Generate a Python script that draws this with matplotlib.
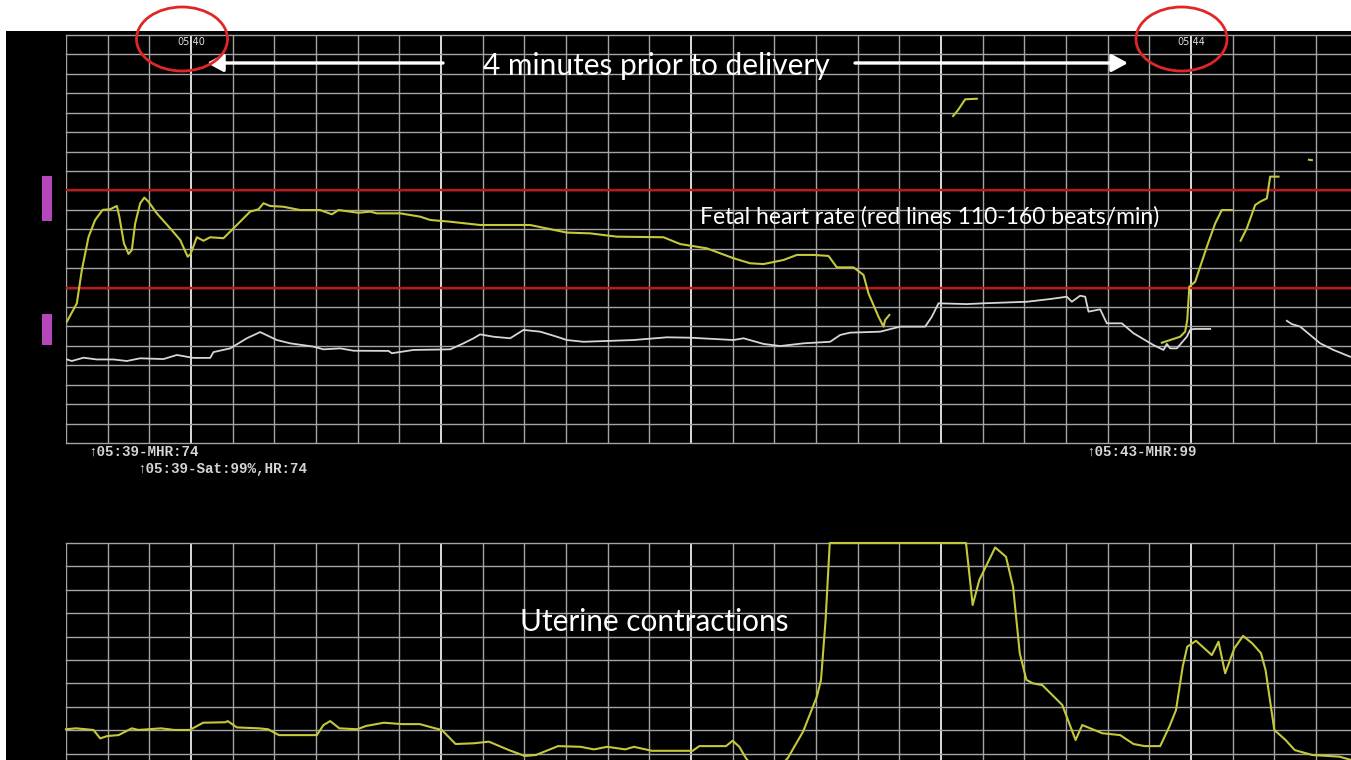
import numpy as np
import matplotlib
matplotlib.use("Agg")
import matplotlib.pyplot as plt
from matplotlib.patches import Rectangle, Ellipse, FancyArrowPatch

# ---------------- data (time in seconds from 05:39:30) ----------------
fhr_t1 = [0.2, 2.6, 3.8, 5.4, 7, 8.8, 10.6, 12.2, 12.8, 13.9, 15, 15.8, 16.6, 17.8, 18.8, 19.8,
          21.8, 25, 27.4, 29.2, 29.9, 31.4, 33, 34.6, 37.8, 40.2, 44.2, 46.2, 47.4, 49, 52.2, 56.2,
          61, 63.8, 65.4, 70.2, 73, 74.6, 80.2, 85, 87.4, 92.2, 99.4, 111.4, 120.2, 125.8, 132.2,
          143.4, 147.4, 153.8, 160.2, 164.2, 167.4, 172.2, 175.4, 179.4, 183, 185, 189, 191.4,
          192.6, 195, 196.2, 196.6, 197.6]
fhr_v1 = [92.4, 101.9, 119, 136, 144.8, 150, 150.3, 152, 146.5, 132.8, 127.3, 129.3, 143, 153.4,
          156.3, 154.2, 148.2, 140.5, 134.5, 125.9, 127.3, 135.9, 134.1, 135.9, 135.4, 140.5, 149.1,
          150.3, 153.4, 152, 151.6, 149.9, 149.9, 147.7, 149.9, 148.5, 149.1, 148.2, 148.2, 146.5,
          144.8, 143.9, 142.2, 142.2, 138.3, 137.9, 136.2, 135.9, 132.4, 130.2, 125.1, 122.5, 122.1,
          124.2, 126.8, 126.8, 126.3, 120.4, 120.4, 116.5, 107, 95, 89.9, 93.3, 95.9]
fhr_t2 = [212.9, 214.1, 215.8, 218.6]
fhr_v2 = [198.3, 201.4, 206.9, 207.2]
fhr_t3 = [263.0, 265.0, 267.4, 268.6, 269.1, 269.6, 271.0, 272.2, 273.8, 275.8, 277.4, 279.8]
fhr_v3 = [81.6, 83, 84.7, 87.3, 93.3, 110.5, 113, 120.7, 131, 143, 149.9, 149.9]
fhr_t4 = [281.9, 283.4, 285.4, 286.6, 288.2, 289.0, 291.0]
fhr_v4 = [134.1, 140.5, 152.5, 154.2, 155.9, 167.1, 167.1]
fhr_t5 = [298.3, 299.0]
fhr_v5 = [175.8, 175.6]

mhr_t1 = [0.2, 1.4, 4.2, 7.4, 11.4, 14.6, 17.8, 23.4, 26.6, 30.6, 34.6, 35.4, 39.4, 43.4, 46.6,
          50.6, 53.8, 59.4, 61.8, 65.8, 69, 77.4, 78.2, 83.4, 92.2, 95.4, 97.8, 99.4, 102.6, 106.6,
          109.8, 113.8, 117.8, 120.2, 124.2, 136.2, 144.2, 149.8, 160.2, 162.6, 167.4, 171.4, 177,
          183.4, 185.8, 188.2, 195.4, 200.2, 206.2, 207.8, 209.4, 216.2, 220.2, 230.6, 236.2, 240.2,
          241.4, 243.4, 244.6, 245.4, 248.2, 249.8, 253.4, 256.2, 261, 263.4, 264.2, 265, 266.6,
          269, 269.8, 270.6, 274.6]
mhr_v1 = [73, 72.2, 73.9, 73, 73, 72.2, 73.6, 73.2, 75.3, 73.8, 73.8, 76.8, 78.7, 83.9, 87.1, 83,
          81.3, 79.6, 78.2, 78.7, 77.5, 77.4, 76.2, 77.9, 78.2, 81.3, 83.9, 85.9, 84.7, 83.9, 88.2,
          87.3, 84.7, 83, 82.1, 83, 84.4, 84.2, 83, 83.9, 81, 79.9, 81.3, 82.1, 85.6, 86.8, 87.3,
          89.9, 89.9, 95, 101.9, 101.5, 101.9, 102.7, 104.1, 105.3, 102.7, 105.8, 105.3, 97.6, 98.8,
          91.6, 91.6, 86.5, 80.4, 77.9, 81, 78.7, 78.7, 84.7, 88.2, 88.7, 88.7]
mhr_t2 = [293.0, 294.2, 296.2, 301.0, 304.2, 308.2]
mhr_v2 = [92.9, 91.2, 89.9, 81.3, 77.9, 74.4]

toco_t = [0, 2.4, 6.6, 8.2, 9.9, 12.6, 15.8, 17.4, 22.8, 26, 29.7, 32.9, 38.3, 38.8, 41, 46.3,
          48.5, 51.1, 60.2, 61.8, 63.4, 65.6, 69.9, 72, 76.3, 80.6, 84.9, 88.6, 90.2, 93.5, 97.8,
          101.5, 106.3, 110.1, 112.8, 118.1, 123.5, 126.7, 129.9, 134.2, 136.3, 140.6, 150.4, 152,
          158.4, 160, 161.6, 163.2, 165.5, 170.5, 173.2, 176.9, 180.2, 181.2, 182.3, 183.3, 216,
          217.6, 219.2, 223, 225.6, 227.3, 228.9, 230.5, 232.1, 234.3, 239.1, 242.3, 243.9, 248.7,
          253, 256.2, 258.9, 262.6, 264.8, 266.4, 268, 269.1, 271.2, 275, 276.6, 278.2, 280.4,
          282.5, 284.7, 286.8, 287.9, 290, 292.7, 294.9, 299.1, 305.6, 308.4]
toco_v = [20.4, 20.8, 20.1, 16.5, 17.5, 17.9, 20.8, 20.1, 20.8, 20.1, 20.1, 23.2, 23.4, 23.9, 21.2,
          20.8, 20.4, 17.9, 17.9, 22.2, 23.9, 20.8, 20.4, 21.8, 23.2, 22.6, 22.6, 20.8, 20.1, 14.1,
          14.4, 15.1, 11.5, 9, 9.4, 13.2, 12.9, 11.8, 12.9, 11.8, 12.9, 11.2, 11.2, 13.2, 13.2, 15.5,
          12.9, 8, 3, 3, 8, 19.4, 34.3, 41.5, 67.1, 100, 100, 73.5, 84.2, 98.1, 94.1, 81.3, 52.9,
          41.5, 40, 39.3, 30.8, 15.8, 22.2, 18.7, 17.9, 14.1, 13.2, 13.2, 21.5, 28.6, 47.1, 55.7,
          58.2, 52.1, 57.8, 44.3, 55, 60.3, 57.1, 52.9, 45.7, 20.1, 15.8, 11.5, 9.4, 8.7, 7.3]

fhr_limits = [110, 160]
minute_labels = ["05:40", "05:41", "05:42", "05:43", "05:44"]
minute_times = [30, 90, 150, 210, 270]
shown_minute_labels = ["05:40", "05:44"]
event_labels = ["\u219105:39-MHR:74", "\u219105:39-Sat:99%,HR:74", "\u219105:43-MHR:99"]

# ---------------- layout helpers ----------------
W, H = 1351, 760
fig = plt.figure(figsize=(W / 100, H / 100), dpi=100, facecolor="white")

def fx(px):
    return px / W

def fy(py):
    return 1 - py / H

# black monitor background
fig.patches.append(Rectangle((fx(6), 0), fx(W) - fx(6), fy(31), transform=fig.transFigure,
                             facecolor="black", edgecolor="none", zorder=-5))

X0, X1 = 66, 1351
T_END = 308.4
MINOR = "#a4a4a4"
MAJOR = "#ececec"
YELLOW = "#c4c83a"
WHITE_TR = "#d6d6d6"

def make_axes(top, bottom, ymin, ymax):
    ax = fig.add_axes([fx(X0), fy(bottom), fx(X1) - fx(X0), (bottom - top) / H])
    ax.set_facecolor("black")
    ax.set_xlim(0, T_END)
    ax.set_ylim(ymin, ymax)
    for s in ax.spines.values():
        s.set_visible(False)
    ax.set_xticks([])
    ax.set_yticks([])
    for t in np.arange(0, T_END, 10):
        major = any(abs(t - m) < 1e-6 for m in minute_times)
        ax.axvline(t, color=MAJOR if major else MINOR, lw=1.3 if major else 1.0, zorder=1)
    for v in np.arange(ymin, ymax + 1, 10):
        ax.axhline(v, color=MINOR, lw=1.0, zorder=1, clip_on=False)
    return ax

# ---------------- upper panel: heart rates ----------------
ax1 = make_axes(35, 443, 30, 240)
for lim in fhr_limits:
    ax1.axhline(lim, color="#c81414", lw=1.6, zorder=2)
for t, v in [(mhr_t1, mhr_v1), (mhr_t2, mhr_v2)]:
    ax1.plot(t, v, color=WHITE_TR, lw=1.3, zorder=3)
for t, v in [(fhr_t1, fhr_v1), (fhr_t2, fhr_v2), (fhr_t3, fhr_v3), (fhr_t4, fhr_v4), (fhr_t5, fhr_v5)]:
    ax1.plot(t, v, color=YELLOW, lw=1.5, zorder=4)
for lab, tm in zip(minute_labels, minute_times):
    if lab in shown_minute_labels:
        ax1.text(tm, 236.2, lab, color="#e0e0e0", fontsize=7, ha="center", va="center",
                 family="DejaVu Sans", zorder=5)

# ---------------- lower panel: uterine contractions ----------------
ax2 = make_axes(543, 777, 0, 100)
ax2.plot(toco_t, toco_v, color=YELLOW, lw=1.5, zorder=4, clip_on=False)

# ---------------- side markers ----------------
fig.patches.append(Rectangle((fx(42), fy(221)), 10 / W, 45 / H, transform=fig.transFigure,
                             facecolor="#b646bc", edgecolor="none", zorder=3))
fig.patches.append(Rectangle((fx(42), fy(345)), 10 / W, 31 / H, transform=fig.transFigure,
                             facecolor="#b646bc", edgecolor="none", zorder=3))

# ---------------- event texts ----------------
mono = ["Liberation Mono", "DejaVu Sans Mono"]
for lab, (px, py) in zip(event_labels, [(88, 452), (137, 469), (1086, 452)]):
    fig.text(fx(px), fy(py), lab, color="#d4d4d4", fontsize=10.3, family=mono,
             weight="bold", ha="left", va="center")

# ---------------- overlay annotations ----------------
sans = ["Lato", "DejaVu Sans"]
fig.text(fx(656), fy(66), "4 minutes prior to delivery", color="white", fontsize=21.5,
         family=sans, ha="center", va="center")
fig.text(fx(930), fy(217), "Fetal heart rate (red lines 110-160 beats/min)", color="white",
         fontsize=16.5, family=sans, ha="center", va="center")
fig.text(fx(654), fy(622), "Uterine contractions", color="white", fontsize=21.4,
         family=sans, ha="center", va="center")

for (a, b) in [((443, 63), (207, 63)), ((855, 63), (1128, 63))]:
    fig.patches.append(FancyArrowPatch((fx(a[0]), fy(a[1])), (fx(b[0]), fy(b[1])),
                                       transform=fig.transFigure, color="white", lw=2.4,
                                       arrowstyle="-|>,head_length=0.7,head_width=0.38",
                                       mutation_scale=14, shrinkA=0, shrinkB=0, zorder=6))

for cx in [182, 1181.5]:
    fig.patches.append(Ellipse((fx(cx), fy(39)), 91 / W, 64 / H, transform=fig.transFigure,
                               fill=False, edgecolor="#e02626", lw=2.0, zorder=7))

fig.savefig("out.png", dpi=100, facecolor="white")
